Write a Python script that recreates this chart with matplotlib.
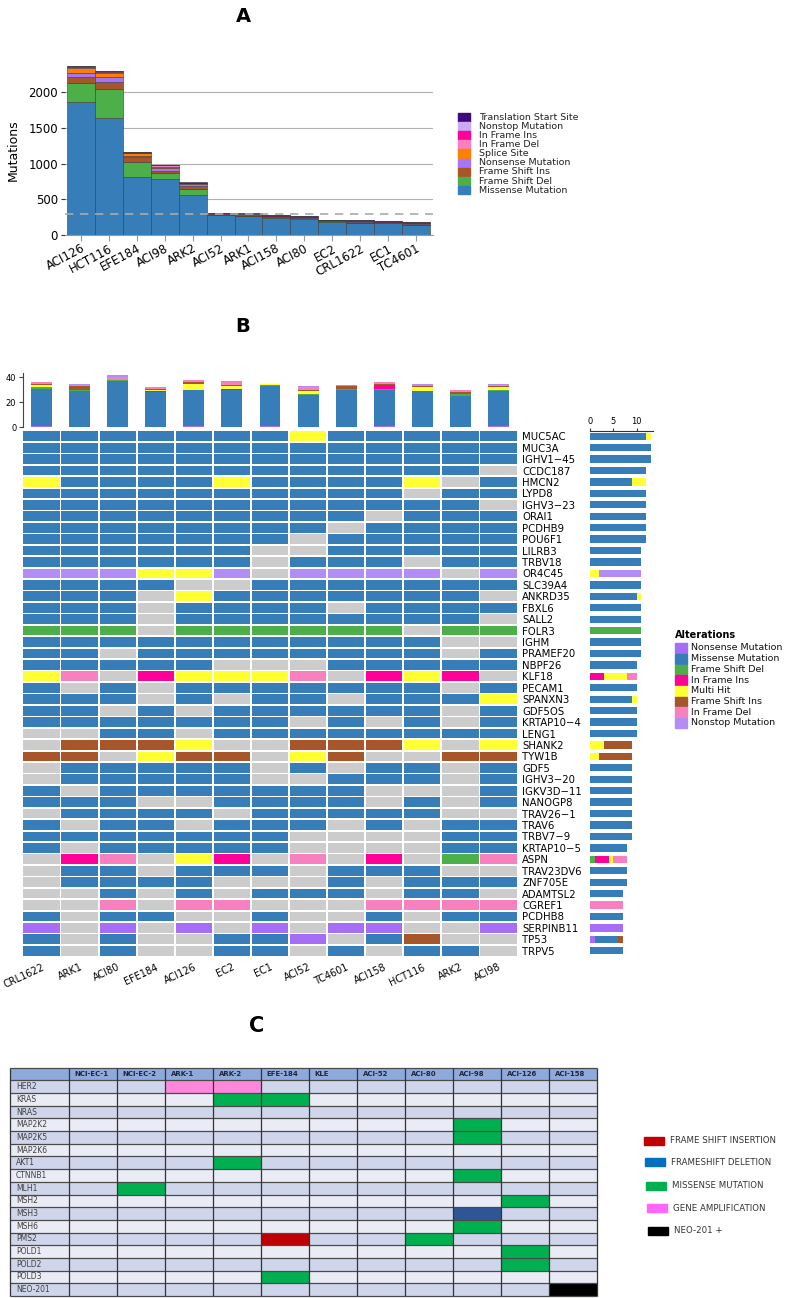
import numpy as np
import matplotlib
matplotlib.use('Agg')
import matplotlib.pyplot as plt
from matplotlib.patches import Rectangle

W, H = 787, 1298
plt.rcParams['font.family'] = ['DejaVu Sans']

# ---------------- Panel A data ----------------
a_samples = ['ACI126', 'HCT116', 'EFE184', 'ACI98', 'ARK2', 'ACI52', 'ARK1',
             'ACI158', 'ACI80', 'EC2', 'CRL1622', 'EC1', 'TC4601']
a_missense = [1860, 1640, 808, 780, 556, 276, 266, 243, 229, 187, 164, 164, 140]
a_fs_del = [275, 405, 220, 94, 93, 8, 3, 4, 5, 5, 10, 3, 4]
a_fs_ins = [75, 100, 60, 28, 38, 6, 12, 4, 3, 5, 10, 2, 10]
a_nonsense = [65, 70, 22, 40, 22, 8, 8, 10, 12, 5, 8, 10, 8]
a_splice = [60, 60, 35, 8, 6, 2, 2, 2, 2, 2, 2, 2, 2]
a_if_del = [20, 15, 10, 28, 8, 10, 4, 8, 5, 3, 5, 8, 6]
a_if_ins = [10, 8, 5, 3, 10, 3, 6, 6, 6, 5, 6, 5, 10]
a_nonstop = [5, 3, 2, 2, 2, 2, 1, 1, 1, 1, 1, 1, 1]
a_tss = [5, 2, 1, 1, 6, 0, 0, 0, 0, 1, 1, 0, 0]
a_names = ['Missense Mutation', 'Frame Shift Del', 'Frame Shift Ins', 'Nonsense Mutation',
           'Splice Site', 'In Frame Del', 'In Frame Ins', 'Nonstop Mutation',
           'Translation Start Site']
a_threshold = 300

# ---------------- Panel B data ----------------
b_samples = ['CRL1622', 'ARK1', 'ACI80', 'EFE184', 'ACI126', 'EC2', 'EC1', 'ACI52',
             'TC4601', 'ACI158', 'HCT116', 'ARK2', 'ACI98']
b_genes = ['MUC5AC', 'MUC3A', 'IGHV1\u221245', 'CCDC187', 'HMCN2', 'LYPD8', 'IGHV3\u221223',
           'ORAI1', 'PCDHB9', 'POU6F1', 'LILRB3', 'TRBV18', 'OR4C45', 'SLC39A4',
           'ANKRD35', 'FBXL6', 'SALL2', 'FOLR3', 'IGHM', 'PRAMEF20', 'NBPF26', 'KLF18',
           'PECAM1', 'SPANXN3', 'GDF5OS', 'KRTAP10\u22124', 'LENG1', 'SHANK2', 'TYW1B',
           'GDF5', 'IGHV3\u221220', 'IGKV3D\u221211', 'NANOGP8', 'TRAV26\u22121', 'TRAV6',
           'TRBV7\u22129', 'KRTAP10\u22125', 'ASPN', 'TRAV23DV6', 'ZNF705E', 'ADAMTSL2',
           'CGREF1', 'PCDHB8', 'SERPINB11', 'TP53', 'TRPV5']
# N nonsense, M missense, D frame shift del, I in frame ins, H multi hit,
# S frame shift ins, F in frame del, P nonstop, . none
b_matrix = [
    'MMMMMMMHMMMMM', 'MMMMMMMMMMMMM', 'MMMMMMMMMMMMM', 'MMMMMMMMMMMM.',
    'HMMMMHMMMMH.M', 'MMMMMMMMMM.MM', 'MMMMMMMMMMMM.', 'MMMMMMMMM.MMM',
    'MMMMMMMM.MMMM', 'MMMMMMM.MMMMM', 'MMMMMM..MMMMM', 'MMMMMM.MMM.MM',
    'PPPHHP.PPPP.P', 'MMMM..MMMMMMM', 'MMM.HMMMMMMM.', 'MMM.MMMM.MMMM',
    'MMM.MMMMMMMM.', 'DDD.DDDDDD.DD', 'MMMMMMMMMMM..', 'MM.MMMMMMMM.M',
    'MMMMM...MMMMM', 'HF.IHHHF.IHI.', 'M.M.MMMMMMM.M', 'MMM.M.MM.MMMH',
    'MM.M.MMMMMM.M', 'MMMMMMM.M.M.M', '..MM.MMMMMMMM', '.SSSH..SSSH.H',
    'SS.HSS.HS..SS', '.MMMMM.M.MM.M', '.MMMMM..MMM.M', 'M.MMMMMMM...M',
    'MMM..MMMM.M.M', '.MMMM.MMMMM..', 'M.MM.MMM.M.MM', 'MMMMMMM....MM',
    'M.MMMMM....MM', '.IF.HI.F.I.DF', '.MM.MMM.MMM..', '.MMMM...M.MMM',
    '..M.M.MMM.MM.', '..F.FF...FFFF', 'M.MM..M..M.MM', 'N.N.N.N.NN..N',
    'M.M..MMN.MS..', 'M.M..MM.M.MM.']
b_codes = ['N', 'M', 'D', 'I', 'H', 'S', 'F', 'P']
b_names = ['Nonsense Mutation', 'Missense Mutation', 'Frame Shift Del', 'In Frame Ins',
           'Multi Hit', 'Frame Shift Ins', 'In Frame Del', 'Nonstop Mutation']
# per-sample mutation burden (top bar), stacked by the same codes
tb_nonsense = [1, 0, 0, 0, 1, 0, 1, 0, 0, 1, 0, 0, 1]
tb_missense = [30, 29, 37, 28, 29, 30, 32, 26, 30, 29, 29, 25, 28]
tb_fs_del = [1, 1, 1, 0, 0, 0, 1, 1, 1, 1, 0, 2, 1]
tb_if_ins = [0, 0, 0, 1, 0, 1, 0, 0, 0, 3, 0, 0, 0]
tb_multi = [2, 0, 0, 1, 5, 2, 1, 2, 0, 0, 3, 0, 2]
tb_fs_ins = [1, 3, 0, 1, 1, 1, 0, 1, 2, 1, 1, 1, 1]
tb_if_del = [1, 1, 2, 1, 2, 2, 0, 2, 0, 1, 0, 2, 1]
tb_nonstop = [0, 1, 2, 0, 0, 1, 0, 1, 1, 0, 2, 0, 1]

# ---------------- Panel C data ----------------
c_lines = ['NCI-EC-1', 'NCI-EC-2', 'ARK-1', 'ARK-2', 'EFE-184', 'KLE', 'ACI-52',
           'ACI-80', 'ACI-98', 'ACI-126', 'ACI-158']
c_genes = ['HER2', 'KRAS', 'NRAS', 'MAP2K2', 'MAP2K5', 'MAP2K6', 'AKT1', 'CTNNB1',
           'MLH1', 'MSH2', 'MSH3', 'MSH6', 'PMS2', 'POLD1', 'POLD2', 'POLD3', 'NEO-201']
c_hit_gene = ['HER2', 'HER2', 'KRAS', 'KRAS', 'MAP2K2', 'MAP2K5', 'AKT1', 'CTNNB1',
              'MLH1', 'MSH2', 'MSH3', 'MSH6', 'PMS2', 'PMS2', 'POLD1', 'POLD2',
              'POLD3', 'NEO-201']
c_hit_line = ['ARK-1', 'ARK-2', 'ARK-2', 'EFE-184', 'ACI-98', 'ACI-98', 'ARK-2', 'ACI-98',
              'NCI-EC-2', 'ACI-126', 'ACI-98', 'ACI-98', 'EFE-184', 'ACI-80', 'ACI-126',
              'ACI-126', 'EFE-184', 'ACI-158']
c_hit_type = ['amp', 'amp', 'mis', 'mis', 'mis', 'mis', 'mis', 'mis', 'mis', 'mis',
              'fsdel', 'mis', 'fsins', 'mis', 'mis', 'mis', 'mis', 'neo']
c_leg_labels = ['FRAME SHIFT INSERTION', 'FRAMESHIFT DELETION', 'MISSENSE MUTATION',
                'GENE AMPLIFICATION', 'NEO-201 +']

# ---------------- styles ----------------
a_colors = ['#377EB8', '#4DAF4A', '#A65628', '#A874F8', '#FF7F00', '#F781BF',
            '#FF0099', '#CBAAF7', '#3F0A7E']
b_colors = {'N': '#A66DF7', 'M': '#377EB8', 'D': '#4DAF4A', 'I': '#FF0099',
            'H': '#FFFF33', 'S': '#A65628', 'F': '#F781BF', 'P': '#B48CF6',
            '.': '#CCCCCC'}
c_cell_colors = {'amp': '#FF88DD', 'mis': '#00B050', 'fsins': '#C00000',
                 'fsdel': '#2F5597', 'neo': '#000000'}
c_leg_colors = ['#C00000', '#0070C0', '#00B050', '#FF66FF', '#000000']

fig = plt.figure(figsize=(W / 100, H / 100), dpi=100)


def add_ax(x0, y0, x1, y1):
    ax = fig.add_axes([x0 / W, 1 - y1 / H, (x1 - x0) / W, (y1 - y0) / H])
    ax.set_facecolor('none')
    return ax


ov = add_ax(0, 0, W, H)
ov.set_xlim(0, W)
ov.set_ylim(H, 0)
ov.axis('off')

# titles
ov.text(243, 17, 'A', fontsize=14, fontweight='bold', ha='center', va='center')
ov.text(243, 326, 'B', fontsize=14, fontweight='bold', ha='center', va='center')
ov.text(257, 1026, 'C', fontsize=15, fontweight='bold', ha='center', va='center')

# ================= Panel A =================
axA = add_ax(65, 63.8, 433, 235)
xa = np.arange(len(a_samples))
a_stack = [a_missense, a_fs_del, a_fs_ins, a_nonsense, a_splice, a_if_del,
           a_if_ins, a_nonstop, a_tss]
bottom = np.zeros(len(a_samples))
for vals, col in zip(a_stack, a_colors):
    vals = np.array(vals, dtype=float)
    axA.bar(xa, vals, width=1.0, bottom=bottom, color=col, edgecolor='#3a3a3a',
            linewidth=0.4, zorder=2)
    bottom += vals
axA.set_xlim(-0.5 - 2 / 27.9, 12.5 + 3 / 27.9)
axA.set_ylim(0, 2400)
axA.set_yticks([0, 500, 1000, 1500, 2000])
axA.yaxis.grid(True, color='#b0b0b0', lw=0.8)
axA.set_axisbelow(True)
axA.axhline(a_threshold, color='#aaaaaa', lw=1.2, ls=(0, (5, 4)), zorder=3)
for s in ['top', 'right', 'left']:
    axA.spines[s].set_visible(False)
axA.spines['bottom'].set_color('#999999')
axA.tick_params(axis='y', length=3, color='#333333', labelsize=8.5, pad=2)
axA.tick_params(axis='x', length=4, color='#999999', labelsize=8.5, pad=1)
axA.set_xticks(xa)
axA.set_xticklabels(a_samples, rotation=28, ha='right', rotation_mode='anchor')
ov.text(13, 150, 'Mutations', rotation=90, ha='center', va='center', fontsize=9)

# legend A (top to bottom = reverse stack order)
for i, (name, col) in enumerate(zip(a_names[::-1], a_colors[::-1])):
    y = 117.3 + 9.1 * i
    ov.add_patch(Rectangle((458, y - 4.3), 11.5, 8.6, color=col))
    ov.text(479, y, name, fontsize=6.8, ha='left', va='center', color='#222222')

# ================= Panel B =================
nB = len(b_samples)
xb = np.arange(nB)
# top bars
axBt = add_ax(22.5, 372.5, 517.5, 427.3)
tb_stack = [tb_nonsense, tb_missense, tb_fs_del, tb_if_ins, tb_multi, tb_fs_ins,
            tb_if_del, tb_nonstop]
bottom = np.zeros(nB)
for vals, code in zip(tb_stack, b_codes):
    vals = np.array(vals, dtype=float)
    axBt.bar(xb, vals, width=0.55, bottom=bottom, color=b_colors[code], linewidth=0)
    bottom += vals
axBt.set_xlim(-0.5, nB - 0.5)
axBt.set_ylim(0, 43.8)
axBt.set_yticks([0, 20, 40])
axBt.set_xticks([])
for s in ['top', 'right', 'bottom']:
    axBt.spines[s].set_visible(False)
axBt.spines['left'].set_color('#444444')
axBt.spines['left'].set_linewidth(0.8)
axBt.tick_params(axis='y', length=3, labelsize=6, pad=1.5, color='#444444')

# heatmap
axB = add_ax(22.5, 430.5, 517.5, 956.5)
for i, row in enumerate(b_matrix):
    axB.bar(xb, 0.85, bottom=i - 0.425, width=0.955,
            color=[b_colors[c] for c in row], linewidth=0)
axB.set_xlim(-0.5, nB - 0.5)
axB.set_ylim(len(b_genes) - 0.5, -0.5)
axB.yaxis.tick_right()
axB.set_yticks(np.arange(len(b_genes)))
axB.set_yticklabels(b_genes, fontsize=7.3)
axB.set_xticks(xb)
axB.set_xticklabels(b_samples, rotation=25, ha='right', rotation_mode='anchor', fontsize=7)
axB.tick_params(axis='y', length=0, pad=3.5)
axB.tick_params(axis='x', length=0, pad=4)
for s in axB.spines.values():
    s.set_visible(False)

# right bars (gene frequency, from matrix)
counts = np.array([[row.count(c) for c in b_codes] for row in b_matrix], dtype=float)
axR = add_ax(590, 430.5, 653.3, 956.5)
left = np.zeros(len(b_genes))
for k, code in enumerate(b_codes):
    axR.barh(np.arange(len(b_genes)), counts[:, k], left=left, height=0.64,
             color=b_colors[code], linewidth=0)
    left += counts[:, k]
axR.set_xlim(0, 13.55)
axR.set_ylim(len(b_genes) - 0.5, -0.5)
axR.xaxis.tick_top()
axR.set_xticks([0, 5, 10])
axR.set_yticks([])
for s in ['bottom', 'right', 'left']:
    axR.spines[s].set_visible(False)
axR.spines['top'].set_color('#333333')
axR.spines['top'].set_linewidth(0.8)
axR.tick_params(axis='x', length=2.5, labelsize=6, pad=1, color='#333333')

# legend B
ov.text(675, 635, 'Alterations', fontsize=7, fontweight='bold', ha='left', va='center')
for i, (code, name) in enumerate(zip(b_codes, b_names)):
    y = 648 + 10.7 * i
    ov.add_patch(Rectangle((675, y - 4.8), 11.7, 9.6, color=b_colors[code]))
    ov.text(690.7, y, name, fontsize=6.8, ha='left', va='center', color='#111111')

# ================= Panel C =================
axC = add_ax(10, 1067.7, 597, 1296)
lab_w = 59 / 48
nC = len(c_lines)
nR = len(c_genes) + 1
axC.set_xlim(-lab_w, nC)
axC.set_ylim(nR, 0)
axC.axis('off')
axC.add_patch(Rectangle((-lab_w, 0), lab_w + nC, 1, color='#8EAADB', lw=0))
for r in range(1, nR):
    col = '#CFD5EA' if r % 2 == 1 else '#E9EBF5'
    axC.add_patch(Rectangle((-lab_w, r), lab_w + nC, 1, color=col, lw=0))
for g, l, t in zip(c_hit_gene, c_hit_line, c_hit_type):
    r = c_genes.index(g) + 1
    c = c_lines.index(l)
    axC.add_patch(Rectangle((c, r), 1, 1, color=c_cell_colors[t], lw=0))
axC.hlines(np.arange(nR + 1), -lab_w, nC, color='#4a4a4a', lw=0.9, clip_on=False)
axC.vlines(np.concatenate([[-lab_w], np.arange(nC + 1)]), 0, nR, color='#333333',
           lw=0.9, clip_on=False)
for j, name in enumerate(c_lines):
    axC.text(j + 5.7 / 48, 0.5, name, ha='left', va='center', fontsize=5,
             fontweight='bold', color='#1f2540')
for i, g in enumerate(c_genes):
    axC.text(-lab_w + 6 / 48, i + 1.5, g, ha='left', va='center', fontsize=5.5,
             color='#404040')

# legend C
c_leg_pos = [(643.5, 1140.5, 670), (644.5, 1162.3, 671), (645.5, 1185.5, 672),
             (646.5, 1208.3, 673), (647.5, 1230.5, 674)]
for (rx, ry, tx), lab, col in zip(c_leg_pos, c_leg_labels, c_leg_colors):
    ov.add_patch(Rectangle((rx, ry - 4), 20, 8, color=col))
    ov.text(tx, ry, lab, fontsize=6.2, ha='left', va='center', color='#333333')

fig.savefig('out.png', dpi=100)
